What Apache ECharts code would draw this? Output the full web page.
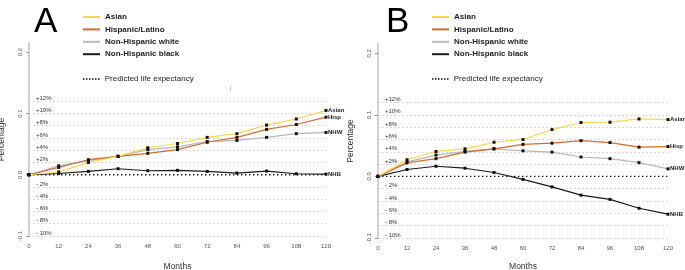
<!DOCTYPE html>
<html>
<head>
<meta charset="utf-8">
<script src="https://cdn.jsdelivr.net/npm/echarts@6/dist/echarts.min.js"></script>
<style>
  html, body { margin: 0; padding: 0; background: #fff; }
  #chart { width: 685px; height: 270px; }
</style>
</head>
<body>
<div id="chart"></div>
<script>
  // months since baseline
  var months = [0, 12, 24, 36, 48, 60, 72, 84, 96, 108, 120];

  // panel A
  var asianA = [0, 0.0045, 0.020, 0.030, 0.044, 0.051, 0.061, 0.067, 0.081, 0.091, 0.105];
  var hispA  = [0, 0.012, 0.0245, 0.030, 0.035, 0.041, 0.053, 0.061, 0.074, 0.082, 0.094];
  var nhwA   = [0, 0.0145, 0.023, 0.030, 0.041, 0.0455, 0.054, 0.056, 0.061, 0.067, 0.069];
  var nhbA   = [0, 0.002, 0.0055, 0.0098, 0.0065, 0.0072, 0.0054, 0.0027, 0.006, 0.0016, 0.001];

  // panel B
  var asianB = [0, 0.027, 0.0405, 0.0448, 0.0555, 0.060, 0.076, 0.0875, 0.088, 0.0933, 0.0923];
  var hispB  = [0, 0.022, 0.0288, 0.0395, 0.0448, 0.052, 0.054, 0.058, 0.055, 0.0475, 0.0485];
  var nhwB   = [0, 0.0235, 0.0347, 0.0405, 0.0448, 0.0416, 0.0395, 0.0315, 0.0288, 0.0224, 0.0123];
  var nhbB   = [0, 0.0112, 0.0165, 0.0133, 0.0064, -0.0048, -0.017, -0.0304, -0.0373, -0.0517, -0.0613];

  var predicted = [0, 0];
  var predMonths = [0, 120];

  var groupNames = ['Asian', 'Hispanic/Latino', 'Non-Hispanic white', 'Non-Hispanic black'];
  var endNames = ['Asian', 'Hisp', 'NHW', 'NHB'];
  var colors = ['#f9d84e', '#d9692d', '#b8b8b8', '#1a1a1a'];

  var pctLines = [0.12, 0.10, 0.08, 0.06, 0.04, 0.02, -0.02, -0.04, -0.06, -0.08, -0.10];
  var pctLabels = ['+12%', '+10%', '+8%', '+6%', '+4%', '+2%', '- 2%', '- 4%', '- 6%', '- 8%', '- 10%'];
  var yTicks = [-0.1, 0, 0.1, 0.2];

  var FONT = '"Liberation Sans", Arial, sans-serif';
  var DOTS = 'path://M0,0h3v3h-3zM6,0h3v3h-3zM12,0h3v3h-3zM18,0h3v3h-3zM24,0h3v3h-3zM30,0h3v3h-3z';

  var chart = echarts.init(document.getElementById('chart'));

  function pairs(xs, ys) {
    return xs.map(function (x, i) { return [x, ys[i]]; });
  }

  function xAxisFor(idx, gap) {
    return {
      gridIndex: idx, type: 'value', min: 0, max: 120, interval: 12,
      name: 'Months', nameLocation: 'middle', nameGap: gap,
      nameTextStyle: { fontFamily: FONT, fontSize: 8.5, color: '#333' },
      axisLine: { show: false }, axisTick: { show: false }, splitLine: { show: false },
      axisLabel: { fontFamily: FONT, fontSize: 6, color: '#555', margin: 7 }
    };
  }

  function yAxisFor(idx) {
    return {
      gridIndex: idx, type: 'value', min: -0.1, max: 0.215,
      name: 'Percentage', nameLocation: 'middle', nameGap: 23,
      nameTextStyle: { fontFamily: FONT, fontSize: 8.5, color: '#333' },
      axisLine: { show: true, lineStyle: { color: '#d2d2d2', width: 2 } },
      axisTick: { show: true, length: 3, customValues: yTicks, lineStyle: { color: '#999' } },
      splitLine: { show: false },
      axisLabel: {
        customValues: yTicks, rotate: 90, fontFamily: FONT, fontSize: 6, color: '#555', margin: 6,
        formatter: function (v) { return v.toFixed(1); }
      }
    };
  }

  function panelSeries(idx, sets) {
    var out = [];
    sets.forEach(function (vals, k) {
      out.push({
        name: groupNames[k], type: 'line', xAxisIndex: idx, yAxisIndex: idx,
        data: pairs(months, vals),
        symbol: 'rect', symbolSize: 3,
        itemStyle: { color: '#111' },
        lineStyle: { color: colors[k], width: 1.2 },
        z: 10 - k,
        endLabel: {
          show: true, formatter: endNames[k], distance: 2,
          fontFamily: FONT, fontSize: 6, fontWeight: 'bold', color: '#222'
        },
        animation: false
      });
    });
    out.push({
      name: 'Predicted life expectancy', type: 'line', xAxisIndex: idx, yAxisIndex: idx,
      data: pairs(predMonths, predicted),
      symbol: 'none',
      lineStyle: { color: '#111', width: 1.4, type: [1.4, 2.6] },
      itemStyle: { color: '#111' },
      z: 3,
      markLine: {
        silent: true, symbol: 'none',
        lineStyle: { color: '#cfcfcf', width: 0.8, type: [2, 2] },
        label: {
          position: 'insideStartTop', distance: [7, 0],
          fontFamily: FONT, fontSize: 6, color: '#333',
          formatter: function (p) { return pctLabels[p.dataIndex]; }
        },
        data: pctLines.map(function (v) { return { yAxis: v }; })
      },
      animation: false
    });
    return out;
  }

  function legendsFor(left) {
    return [
      {
        orient: 'vertical', left: left, top: 12, padding: 0, itemGap: 2.4,
        icon: 'rect', itemWidth: 17, itemHeight: 2,
        textStyle: { fontFamily: FONT, fontSize: 8, fontWeight: 'bold', color: '#222', lineHeight: 10 },
        data: groupNames.map(function (n, k) { return { name: n, itemStyle: { color: colors[k] } }; }),
        selectedMode: false
      },
      {
        orient: 'vertical', left: left, top: 74, padding: 0,
        icon: DOTS, itemWidth: 17, itemHeight: 1.5,
        textStyle: { fontFamily: FONT, fontSize: 8, color: '#222', lineHeight: 10 },
        data: [{ name: 'Predicted life expectancy', itemStyle: { color: '#111' } }],
        selectedMode: false
      }
    ];
  }

  chart.setOption({
    backgroundColor: '#fff',
    animation: false,
    title: [
      { text: 'A', left: 34, top: 5, padding: 0, textStyle: { fontFamily: FONT, fontSize: 35, fontWeight: 'normal', color: '#000' } },
      { text: 'B', left: 386, top: 5, padding: 0, textStyle: { fontFamily: FONT, fontSize: 35, fontWeight: 'normal', color: '#000' } }
    ],
    legend: legendsFor(83).concat(legendsFor(432)),
    grid: [
      { left: 29, right: 359, top: 43, bottom: 34, outerBoundsMode: 'none', containLabel: false },
      { left: 378, right: 17, top: 44, bottom: 32, outerBoundsMode: 'none', containLabel: false }
    ],
    xAxis: [xAxisFor(0, 26), xAxisFor(1, 24)],
    yAxis: [yAxisFor(0), yAxisFor(1)],
    graphic: [
      { type: 'text', left: 230, top: 86, style: { text: '|', fontSize: 5, fill: '#777', fontFamily: FONT } }
    ],
    series: panelSeries(0, [asianA, hispA, nhwA, nhbA]).concat(panelSeries(1, [asianB, hispB, nhwB, nhbB]))
  });
</script>
</body>
</html>
